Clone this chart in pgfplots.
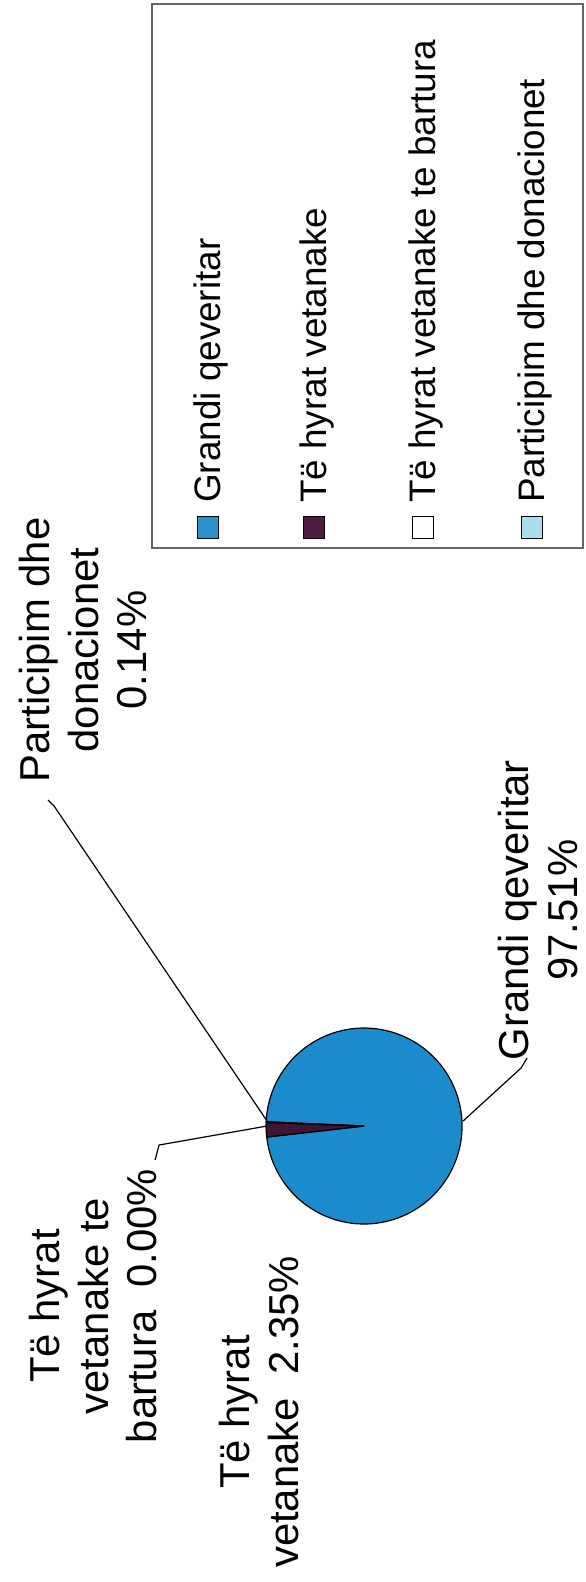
\documentclass[border=0pt]{standalone}
\usepackage{fontspec}
\setmainfont{Liberation Sans}
\usepackage{pgfplots}
\usepackage{pgfplotstable}
\pgfplotsset{compat=1.18}

\definecolor{pieblue}{RGB}{28,139,203}
\definecolor{piedark}{RGB}{62,22,52}
\definecolor{pielight}{RGB}{170,220,240}
\definecolor{legblue}{RGB}{40,148,200}
\definecolor{legdark}{RGB}{78,28,62}

% shares in percent, in the order of the legend
\pgfplotstableread{
slice share
grandi 97.51
vetanake 2.35
bartura 0.00
participim 0.14
}\pieshares

% one wedge: colour, start and end angle (clockwise from the chart's top)
\newcommand\pieslice[3]{%
  \addplot[fill=#1, draw=black, line width=1.2bp, domain=#2:#3, samples=120, variable=\t]
    ({353+98*cos(177.5-\t)}, {1126-98*sin(177.5-\t)}) -- (axis cs:353,1126) -- cycle;}

\newcommand\labfont{\fontsize{42}{49}\selectfont}
\newcommand\legfont{\fontsize{37}{44}\selectfont}

\begin{document}
\pgfplotstablegetelem{0}{share}\of\pieshares\let\sA\pgfplotsretval
\pgfplotstablegetelem{1}{share}\of\pieshares\let\sB\pgfplotsretval
\pgfplotstablegetelem{2}{share}\of\pieshares\let\sC\pgfplotsretval
\pgfplotstablegetelem{3}{share}\of\pieshares\let\sD\pgfplotsretval
\pgfmathsetmacro\aB{3.6*\sA}
\pgfmathsetmacro\aC{\aB+3.6*\sB}
\pgfmathsetmacro\aD{\aC+3.6*\sC}
\pgfmathsetmacro\aE{\aD+3.6*\sD}
\begin{tikzpicture}
\begin{axis}[
    width=574bp, height=1582bp, scale only axis,
    xmin=0, xmax=574, ymin=0, ymax=1582,
    y dir=reverse,
    hide axis, clip=false,
]
% pie (the zero share of "te bartura" has no area)
\pieslice{pieblue}{0}{\aB}
\pieslice{piedark}{\aB}{\aC}
\pieslice{pielight}{\aD}{\aE}

% leader lines
\addplot[black, line width=1.2bp] coordinates {(516,1058) (510,1068) (452,1121)};
\addplot[black, line width=1.2bp] coordinates {(37,800) (43,806) (256,1121)};
\addplot[black, line width=1.2bp] coordinates {(144,1160) (148,1145) (256,1126)};

% data labels
\node[rotate=90, align=center, font=\labfont] at (axis cs:527,910)
  {Grandi qeveritar\\97.51\%};
\node[rotate=90, align=center, font=\labfont] at (axis cs:72,650)
  {Participim dhe\\donacionet\\0.14\%};
\node[rotate=90, align=center, font=\labfont] at (axis cs:82,1306)
  {Të hyrat\\vetanake te\\bartura\ \ 0.00\%};
\node[rotate=90, align=center, font=\labfont] at (axis cs:248,1412)
  {Të hyrat\\vetanake\ \ 2.35\%};

% legend
\draw[black!60, line width=1.2bp] (axis cs:141,4) rectangle (axis cs:572,548);
\draw[fill=legblue, line width=1bp] (axis cs:186.5,516) rectangle (axis cs:207.5,538);
\draw[fill=legdark, line width=1bp] (axis cs:292.5,516) rectangle (axis cs:313.5,538);
\draw[fill=white, line width=1bp] (axis cs:401.5,516) rectangle (axis cs:422.5,538);
\draw[fill=pielight, line width=1bp] (axis cs:510.5,516) rectangle (axis cs:531.5,538);
\node[rotate=90, anchor=base west, inner sep=0pt, font=\legfont] at (axis cs:209,503) {Grandi qeveritar};
\node[rotate=90, anchor=base west, inner sep=0pt, font=\legfont] at (axis cs:315,503) {Të hyrat vetanake};
\node[rotate=90, anchor=base west, inner sep=0pt, font=\legfont] at (axis cs:424,503) {Të hyrat vetanake te bartura};
\node[rotate=90, anchor=base west, inner sep=0pt, font=\legfont] at (axis cs:533,503) {Participim dhe donacionet};
\end{axis}
\pgfresetboundingbox
\path (0,0) rectangle (574bp,1582bp);
\end{tikzpicture}
\end{document}
